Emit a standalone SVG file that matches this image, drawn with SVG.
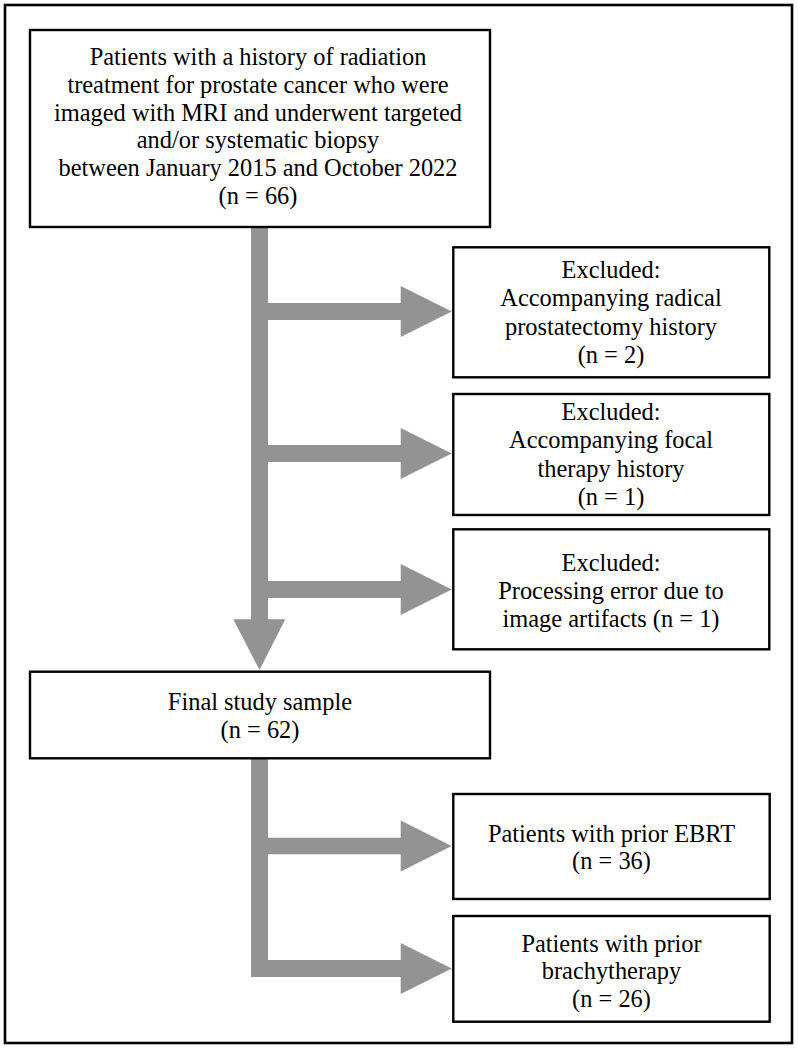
<svg xmlns="http://www.w3.org/2000/svg" width="798" height="1050" viewBox="0 0 798 1050">
<style>
.box{fill:#fff;stroke:#000;stroke-width:2.4}
.frame{fill:#fff;stroke:#000;stroke-width:2.6}
.t{font-family:"Liberation Serif","Times New Roman",serif;font-size:24.4px;fill:#000;text-anchor:middle}
.arr{fill:#939393}
</style>
<rect class="frame" x="5" y="5" width="787" height="1038"/>
<g id="connectors">
<rect class="arr" x="251" y="227" width="17" height="393"/>
<polygon class="arr" points="233.3,619.3 285.3,619.3 259.5,670"/>
<rect class="arr" x="268" y="303" width="133" height="17"/>
<polygon class="arr" points="400.7,286 451.7,311.5 400.7,337"/>
<rect class="arr" x="268" y="445" width="133" height="17"/>
<polygon class="arr" points="400.7,428 451.7,453.5 400.7,479"/>
<rect class="arr" x="268" y="581" width="133" height="17"/>
<polygon class="arr" points="400.7,564 451.7,589.5 400.7,615"/>
<rect class="arr" x="251" y="758" width="17" height="219"/>
<rect class="arr" x="268" y="837.7" width="133" height="16.6"/>
<polygon class="arr" points="400.7,820.5 451.7,846 400.7,871.5"/>
<rect class="arr" x="268" y="960" width="133" height="17"/>
<polygon class="arr" points="400.7,943 451.7,968.5 400.7,994"/>
</g>
<g id="n_start">
<rect class="box" x="30" y="30" width="460" height="197"/>
<text class="t" x="258" y="65">Patients with a history of radiation</text>
<text class="t" x="258" y="92.8">treatment for prostate cancer who were</text>
<text class="t" x="258" y="120.6">imaged with MRI and underwent targeted</text>
<text class="t" x="258" y="148.4">and/or systematic biopsy</text>
<text class="t" x="258" y="176.2">between January 2015 and October 2022</text>
<text class="t" x="258" y="204">(n = 66)</text>
</g>
<g id="n_excl1">
<rect class="box" x="453.3" y="247.3" width="316" height="130"/>
<text class="t" x="611" y="277.5">Excluded:</text>
<text class="t" x="611" y="306">Accompanying radical</text>
<text class="t" x="611" y="334.5">prostatectomy history</text>
<text class="t" x="611" y="363">(n = 2)</text>
</g>
<g id="n_excl2">
<rect class="box" x="453.3" y="394" width="316" height="121"/>
<text class="t" x="611" y="420">Excluded:</text>
<text class="t" x="611" y="448.3">Accompanying focal</text>
<text class="t" x="611" y="476.7">therapy history</text>
<text class="t" x="611" y="505">(n = 1)</text>
</g>
<g id="n_excl3">
<rect class="box" x="453.3" y="529.3" width="316" height="120"/>
<text class="t" x="611" y="570.7">Excluded:</text>
<text class="t" x="611" y="598.5">Processing error due to</text>
<text class="t" x="611" y="626.7">image artifacts (n = 1)</text>
</g>
<g id="n_final">
<rect class="box" x="30" y="671.7" width="460" height="86.6"/>
<text class="t" x="260" y="710">Final study sample</text>
<text class="t" x="260" y="737.5">(n = 62)</text>
</g>
<g id="n_ebrt">
<rect class="box" x="453.3" y="794" width="316.4" height="105"/>
<text class="t" x="611.5" y="841.7">Patients with prior EBRT</text>
<text class="t" x="611.5" y="869">(n = 36)</text>
</g>
<g id="n_brachy">
<rect class="box" x="453.3" y="916" width="316.4" height="105.7"/>
<text class="t" x="611.5" y="951.7">Patients with prior</text>
<text class="t" x="611.5" y="978.5">brachytherapy</text>
<text class="t" x="611.5" y="1006.5">(n = 26)</text>
</g>
</svg>
